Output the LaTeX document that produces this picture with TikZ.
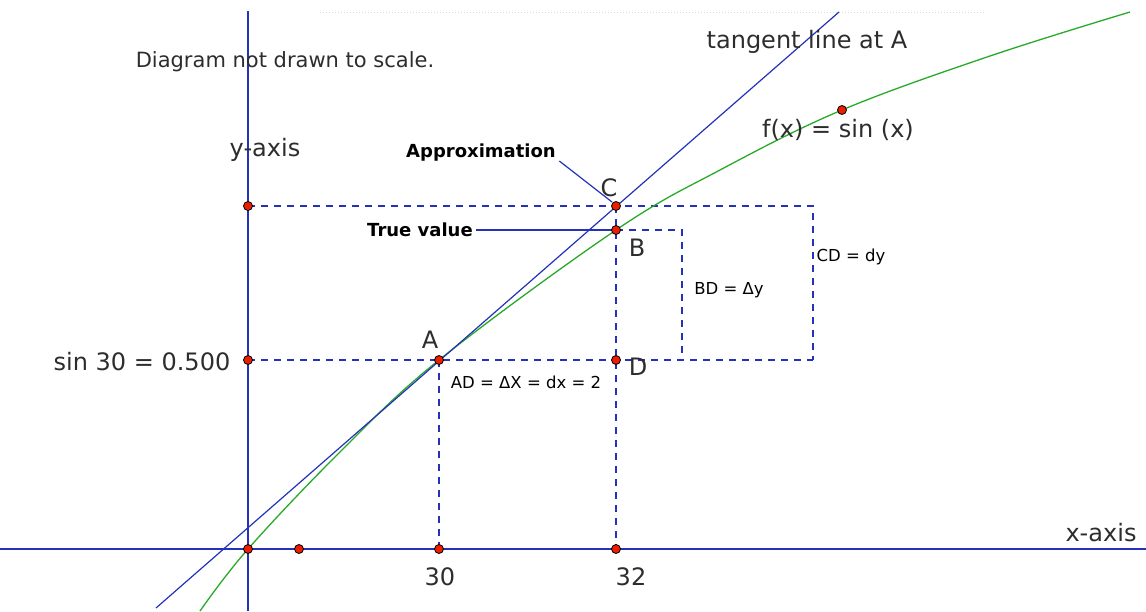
\documentclass[tikz,border=0pt]{standalone}
\usepackage{fontspec}
\setmainfont{DejaVu Sans}
\usepackage{tikz}
\definecolor{axisblue}{RGB}{35,50,185}
\definecolor{curvegreen}{RGB}{40,170,40}
\definecolor{dotred}{RGB}{235,30,0}
\definecolor{labelgray}{RGB}{45,45,45}

\begin{document}
\begin{tikzpicture}[x=1pt,y=-1pt]

\tikzstyle{axis} = [axisblue, line width=1.8pt]
\tikzstyle{guide} = [axisblue, line width=1.5pt, dash pattern=on 7pt off 6pt]
\tikzstyle{thin} = [axisblue, line width=1.2pt]
\tikzstyle{dot} = [circle, fill=dotred, draw=black, line width=0.8pt, inner sep=0pt, minimum size=9pt]
\tikzstyle{big} = [text=labelgray, font=\fontsize{24}{28}\selectfont]
\tikzstyle{mid} = [text=labelgray, font=\fontsize{21}{25}\selectfont]
\tikzstyle{bold} = [text=black, font=\fontsize{18}{22}\selectfont\bfseries]
\tikzstyle{small} = [text=black, font=\fontsize{16.5}{20}\selectfont]

\useasboundingbox (0,0) rectangle (1146,611);

% points
\coordinate (origin) at (248,549);
\coordinate (xone) at (299,549);
\coordinate (x30) at (439,549);
\coordinate (x32) at (616,549);
\coordinate (A) at (439,360);
\coordinate (D) at (616,360);
\coordinate (B) at (616,230);
\coordinate (C) at (616,206);
\coordinate (yC) at (248,206);
\coordinate (yA) at (248,360);
\coordinate (fpt) at (842,110);
\coordinate (cornerC) at (813,206);
\coordinate (cornerD) at (813,360);
\coordinate (cornerB) at (682,230);
\coordinate (cornerBD) at (682,360);

% faint border at the top
\draw [gray!30, dotted, line width=1pt] (320,12) -- (985,12);

% axes
\draw [axis] (0,549) -- (1146,549);
\draw [axis] (248,11) -- (248,611);

% guides
\draw [guide] (yC) -- (cornerC) -- (cornerD);
\draw [guide] (yA) -- (cornerD);
\draw [guide] (B) -- (cornerB) -- (cornerBD);
\draw [guide] (A) -- (x30);
\draw [guide] (C) -- (x32);

% sin curve and tangent at A
\draw [curvegreen, line width=1.3pt] plot [smooth, tension=0.6] coordinates
  {(200,611) (248,549) (340,452) (439,360) (616,230) (720,170) (842,110) (990,56) (1130,12)};
\draw [thin] (156,608) -- (839,12);

% labels
\node (note) [mid] at (285,62) {Diagram not drawn to scale.};
\node (ylabel) [big] at (265,150) {y-axis};
\node (xlabel) [big] at (1101,533) {x-axis};
\node (tangent) [big] at (807,42) {tangent line at A};
\node (func) [big] at (838,130) {f(x) = sin (x)};
\node (sinlabel) [big] at (142,362) {sin 30 = 0.500};
\node (lab30) [big] at (440,577) {30};
\node (lab32) [big] at (631,577) {32};
\node (labA) [big] at (430,340) {A};
\node (labB) [big] at (637,248) {B};
\node (labC) [big] at (609,188) {C};
\node (labD) [big] at (638,367) {D};
\node (approx) [bold] at (481,153) {Approximation};
\node (truev) [bold] at (420,230) {True value};
\node (dx) [small] at (526,382) {AD = ΔX = dx = 2};
\node (deltay) [small] at (729,290) {BD = Δy};
\node (dy) [small] at (851,257) {CD = dy};

% leaders
\draw [thin] (approx.east) ++(0,8) -- (612,202);
\draw [thin] (truev.east) -- (B);

% dots
\foreach \p in {origin,xone,x30,x32,A,B,C,D,yC,yA,fpt}
  \node (dot\p) [dot] at (\p) {};

\end{tikzpicture}
\end{document}
